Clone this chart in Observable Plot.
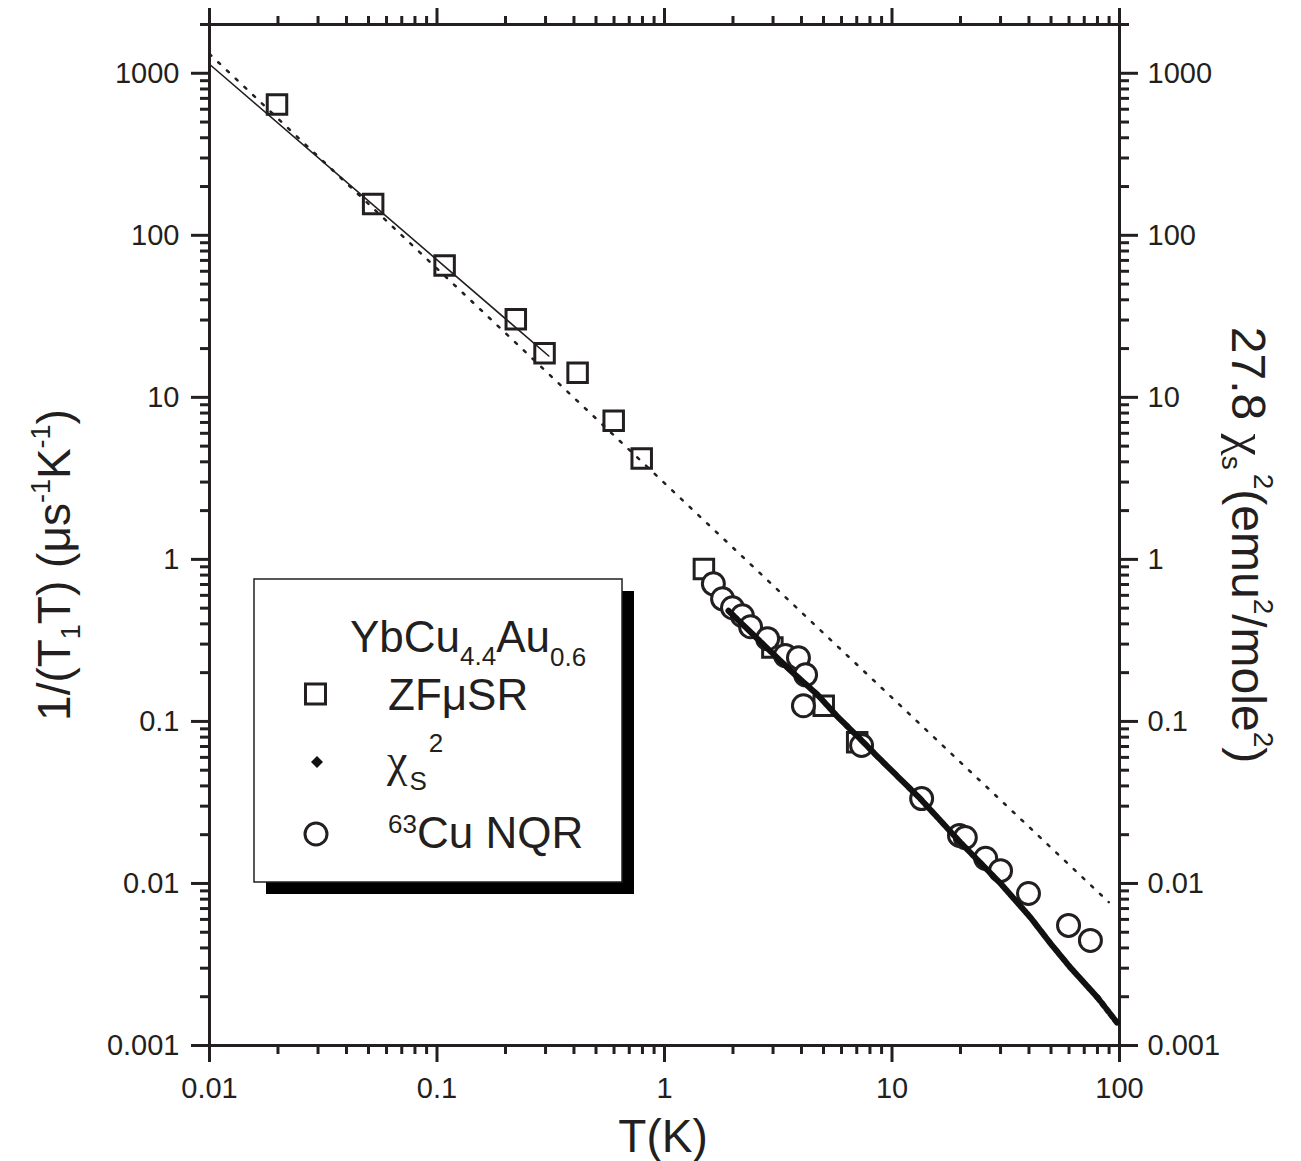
<!DOCTYPE html>
<html>
<head>
<meta charset="utf-8">
<script src="https://cdn.jsdelivr.net/npm/d3@7"></script>
<script src="https://cdn.jsdelivr.net/npm/@observablehq/plot@0.6"></script>
<style>
  html, body { margin: 0; padding: 0; background: #fff; }
  #wrap { position: relative; width: 1301px; height: 1161px; }
  svg { font-family: "Liberation Sans", Arial, Helvetica, sans-serif; }
</style>
</head>
<body>
<div id="wrap"></div>
<script>
// ---- data ----
// ZF muSR (squares): temperature T (K) and 1/(T1 T)
const muSR_T   = [0.0198, 0.0524, 0.108, 0.222, 0.297, 0.415, 0.598, 0.794, 1.49, 2.98, 5.01, 7.03];
const muSR_val = [641, 156, 65.2, 30.3, 18.7, 14.2, 7.18, 4.19, 0.871, 0.286, 0.125, 0.0743];

// 63Cu NQR (circles)
const nqr_T   = [1.64, 1.80, 1.99, 2.20, 2.39, 2.84, 3.40, 3.88, 4.17, 4.08, 7.35, 13.5, 19.8, 21.0, 25.8, 30.0, 39.8, 59.7, 74.5];
const nqr_val = [0.707, 0.571, 0.503, 0.449, 0.384, 0.324, 0.255, 0.247, 0.194, 0.125, 0.071, 0.0334, 0.0198, 0.0192, 0.0143, 0.0120, 0.00867, 0.00551, 0.00445];

// 27.8 chi_s^2 (dense small diamonds)
const chi_T   = [1.91, 2.56, 3.58, 4.71, 5.76, 7.27, 8.63, 13.3, 20.0, 30.0, 40.6, 49.7, 60.8, 80.0];
const chi_val = [0.482, 0.324, 0.206, 0.146, 0.107, 0.0776, 0.0607, 0.0334, 0.0179, 0.0100, 0.00617, 0.00427, 0.00303, 0.00198];
// sparser tail of the chi_s^2 data
const chiTail_T   = [80.0, 98.9];
const chiTail_val = [0.00198, 0.00135];

// solid power-law fit through the low-T muSR points
const fit_T   = [0.01, 0.31];
const fit_val = [1137, 18.0];

// dotted power-law line
const dot_T   = [0.01, 89.7];
const dot_val = [1315, 0.00767];

// axes
const xMajor = [0.01, 0.1, 1, 10, 100];
const yMajor = [0.001, 0.01, 0.1, 1, 10, 100, 1000];
const xDomain = [0.01, 100];
const yDomain = [0.001, 2000];

// ---- build ----
const ink = "#231f20";
const zip = (xs, ys) => xs.map((x, i) => ({x, y: ys[i]}));
const squares = zip(muSR_T, muSR_val);
const circles = zip(nqr_T, nqr_val);
const chi = zip(chi_T, chi_val);
const chiTail = zip(chiTail_T, chiTail_val);
const fitLine = zip(fit_T, fit_val);
const dotLine = zip(dot_T, dot_val);

const mult = [2, 3, 4, 5, 6, 7, 8, 9];
const xMinor = xMajor.slice(0, -1).flatMap(d => mult.map(k => +(k * d).toPrecision(3)));
const yMinor = yMajor.flatMap(d => mult.map(k => +(k * d).toPrecision(3))).filter(v => v <= yDomain[1]);
const fmt = d => String(d);
const none = () => "";

const axisCommon = {color: ink, strokeWidth: 3, fontSize: 29};

const chart = Plot.plot({
  width: 1301,
  height: 1161,
  marginLeft: 209,
  marginRight: 182,
  marginTop: 24,
  marginBottom: 116,
  style: {fontFamily: '"Liberation Sans", Arial, Helvetica, sans-serif', color: ink, background: "#fff"},
  x: {type: "log", domain: xDomain},
  y: {type: "log", domain: yDomain},
  marks: [
    // axes
    Plot.axisX({...axisCommon, anchor: "bottom", ticks: xMajor, tickSize: 17, tickPadding: 15, tickFormat: fmt, label: null}),
    Plot.axisX({...axisCommon, anchor: "bottom", ticks: xMinor, tickSize: 9, tickFormat: none, label: null}),
    Plot.axisX({...axisCommon, anchor: "top", ticks: xMajor, tickSize: 17, tickFormat: none, label: null}),
    Plot.axisX({...axisCommon, anchor: "top", ticks: xMinor, tickSize: 9, tickFormat: none, label: null}),
    Plot.axisY({...axisCommon, anchor: "left", ticks: yMajor, tickSize: 18, tickPadding: 12, tickFormat: fmt, label: null}),
    Plot.axisY({...axisCommon, anchor: "left", ticks: yMinor, tickSize: 9, tickFormat: none, label: null}),
    Plot.axisY({...axisCommon, anchor: "right", ticks: yMajor, tickSize: 18, tickPadding: 10, tickFormat: fmt, label: null}),
    Plot.axisY({...axisCommon, anchor: "right", ticks: yMinor, tickSize: 9, tickFormat: none, label: null}),
    Plot.frame({stroke: ink, strokeWidth: 3}),
    // lines
    Plot.line(dotLine, {x: "x", y: "y", stroke: ink, strokeWidth: 2.5, strokeDasharray: "2.5,9.5"}),
    Plot.line(fitLine, {x: "x", y: "y", stroke: ink, strokeWidth: 1.6}),
    // data
    Plot.dot(squares, {x: "x", y: "y", symbol: "square", r: 11, stroke: ink, strokeWidth: 3, fill: "none"}),
    Plot.dot(circles, {x: "x", y: "y", symbol: "circle", r: 11, stroke: ink, strokeWidth: 3, fill: "#fff"}),
    Plot.line(chi, {x: "x", y: "y", stroke: "#111", strokeWidth: 6, strokeDasharray: "3.2,0.8"}),
    Plot.line(chiTail, {x: "x", y: "y", stroke: "#111", strokeWidth: 6, strokeDasharray: "4,3"})
  ]
});

document.getElementById("wrap").appendChild(chart);

// ---- titles & legend (text) ----
const svg = d3.select(chart);
const FF = '"Liberation Sans", Arial, Helvetica, sans-serif';
const FS = '"Liberation Serif", "DejaVu Serif", serif';

// x title
svg.append("text")
  .attr("x", 663).attr("y", 1152)
  .attr("text-anchor", "middle")
  .attr("font-family", FF).attr("font-size", 46).attr("fill", ink)
  .text("T(K)");

// left y title
{
  const t = svg.append("text")
    .attr("transform", "translate(70,565) rotate(-90)")
    .attr("text-anchor", "middle")
    .attr("font-family", FF).attr("font-size", 46).attr("fill", ink);
  t.append("tspan").text("1/(T");
  t.append("tspan").attr("font-size", 27).attr("dy", 10).text("1");
  t.append("tspan").attr("dy", -10).text("T) (μs");
  t.append("tspan").attr("font-size", 27).attr("dy", -20).text("-1");
  t.append("tspan").attr("dy", 20).text("K");
  t.append("tspan").attr("font-size", 27).attr("dy", -20).text("-1");
  t.append("tspan").attr("dy", 20).text(")");
}

// right y title
{
  const t = svg.append("text")
    .attr("transform", "translate(1232,545) rotate(90)")
    .attr("text-anchor", "middle")
    .attr("font-family", FF).attr("font-size", 48).attr("fill", ink);
  t.append("tspan").text("27.8 ");
  t.append("tspan").attr("font-family", FS).attr("font-size", 50).text("χ");
  t.append("tspan").attr("font-size", 28).attr("dy", 10).text("s");
  t.append("tspan").attr("font-size", 28).attr("dy", -32).attr("dx", 4).text("2");
  t.append("tspan").attr("dy", 22).text("(emu");
  t.append("tspan").attr("font-size", 28).attr("dy", -22).text("2");
  t.append("tspan").attr("dy", 22).text("/mole");
  t.append("tspan").attr("font-size", 28).attr("dy", -22).text("2");
  t.append("tspan").attr("dy", 22).text(")");
}

// legend
{
  const g = svg.append("g").attr("text-anchor", "start");
  g.append("rect").attr("x", 266).attr("y", 591).attr("width", 368).attr("height", 303).attr("fill", "#000");
  g.append("rect").attr("x", 254).attr("y", 579).attr("width", 368).attr("height", 303)
    .attr("fill", "#fff").attr("stroke", ink).attr("stroke-width", 1.5);

  const txt = (x, y) => g.append("text").attr("x", x).attr("y", y)
    .attr("text-anchor", "start")
    .attr("font-family", FF).attr("font-size", 44).attr("fill", ink);

  const t1 = txt(350, 652);
  t1.append("tspan").text("YbCu");
  t1.append("tspan").attr("font-size", 26).attr("dy", 13).text("4.4");
  t1.append("tspan").attr("dy", -13).text("Au");
  t1.append("tspan").attr("font-size", 26).attr("dy", 14).text("0.6");

  // square symbol
  g.append("rect").attr("x", 305.5).attr("y", 684).attr("width", 20).attr("height", 20)
    .attr("fill", "none").attr("stroke", ink).attr("stroke-width", 3);
  txt(388, 710).text("ZFμSR");

  // diamond symbol
  g.append("path").attr("d", "M317,756 L323,762 L317,768 L311,762 Z").attr("fill", "#111");
  const t3 = txt(387, 776);
  t3.append("tspan").attr("font-family", FS).attr("font-size", 46).text("χ");
  t3.append("tspan").attr("font-size", 26).attr("dy", 14).attr("dx", 2).text("S");
  t3.append("tspan").attr("font-size", 26).attr("dy", -38).attr("dx", 2).text("2");

  // circle symbol
  g.append("circle").attr("cx", 316).attr("cy", 834).attr("r", 11)
    .attr("fill", "none").attr("stroke", ink).attr("stroke-width", 3);
  const t4 = txt(388, 833);
  t4.append("tspan").attr("font-size", 26).text("63");
  t4.append("tspan").attr("dy", 15).text("Cu NQR");
}
</script>
</body>
</html>
